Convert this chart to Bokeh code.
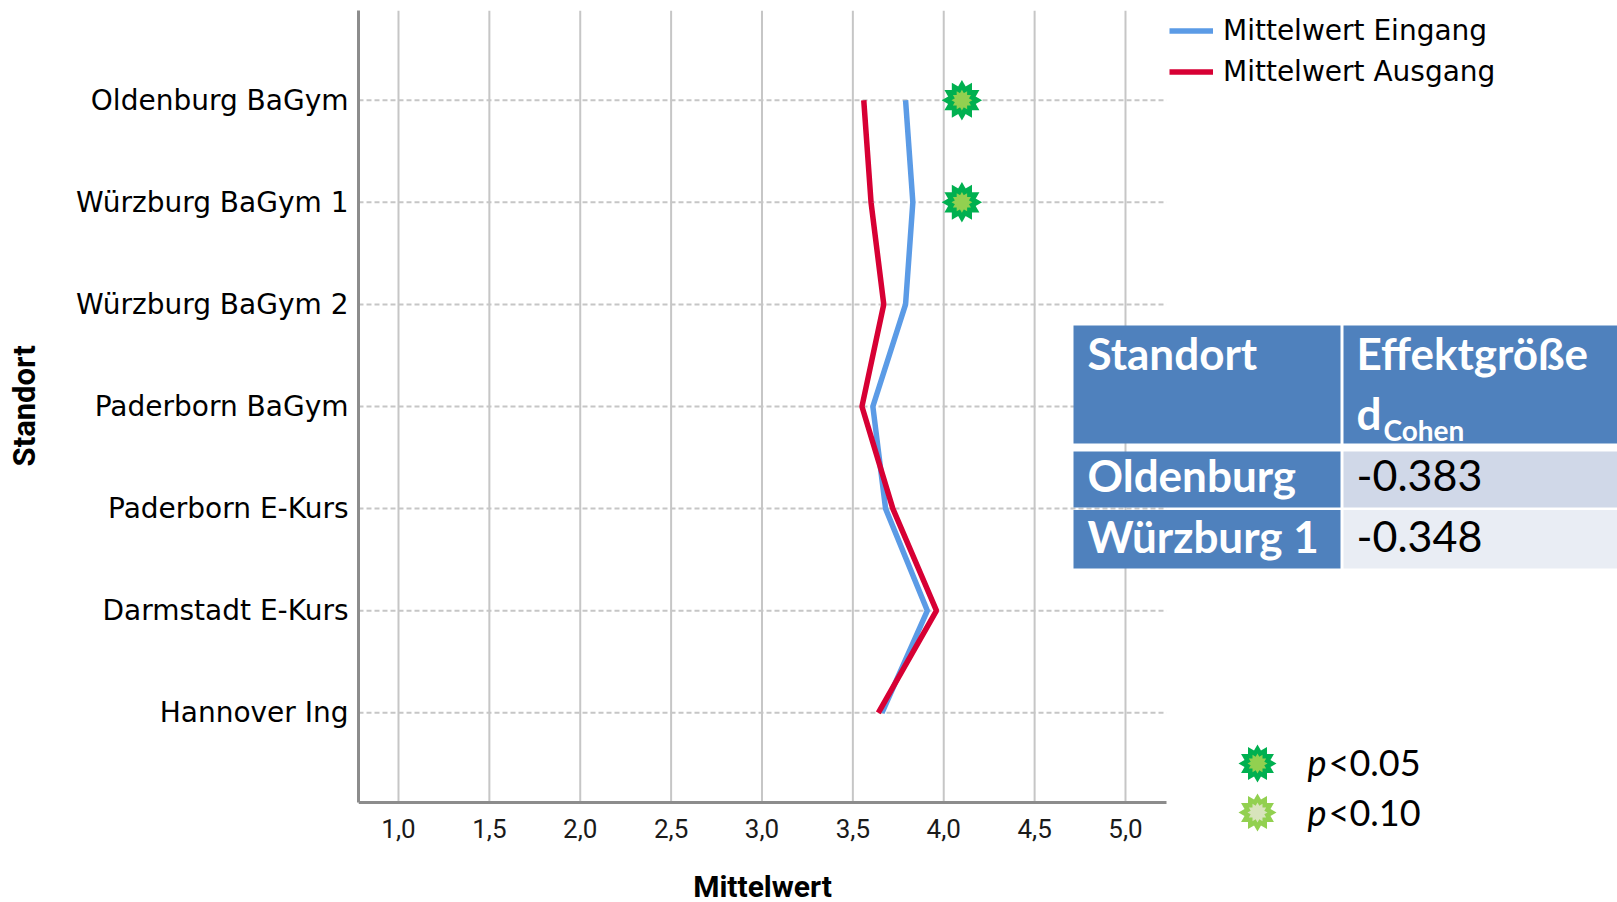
import numpy as np
from bokeh.plotting import figure
from bokeh.models import (Range1d, FixedTicker, BoxAnnotation, Label,
                          PolyAnnotation, Legend, LegendItem)
from bokeh.embed import file_html
from bokeh.resources import INLINE

# ---------------------------------------------------------------- data
standorte = ["Oldenburg BaGym", "Würzburg BaGym 1", "Würzburg BaGym 2",
             "Paderborn BaGym", "Paderborn E-Kurs", "Darmstadt E-Kurs", "Hannover Ing"]
mittelwert_eingang = [3.79, 3.83, 3.79, 3.61, 3.68, 3.91, 3.66]
mittelwert_ausgang = [3.56, 3.60, 3.67, 3.55, 3.72, 3.96, 3.64]

x_ticks = [1.0, 1.5, 2.0, 2.5, 3.0, 3.5, 4.0, 4.5, 5.0]
x_tick_labels = ["1,0", "1,5", "2,0", "2,5", "3,0", "3,5", "4,0", "4,5", "5,0"]

# sites with a significant change (p<0.05), marked with a star
signifikant_standorte = ["Oldenburg BaGym", "Würzburg BaGym 1"]
stern_x = 4.1

# effect size table
tabelle_standorte = ["Oldenburg", "Würzburg 1"]
tabelle_cohen_d = [-0.383, -0.348]

signifikanz_labels = ["<0.05", "<0.10"]

# ---------------------------------------------------------------- layout
W, H = 1617, 902
FL, FT = 358, 10                      # frame starts here; it runs to the right and bottom canvas edges
AX_X = (0.78, 5.226)                  # extent of the value axis
AX_Y = (-0.8785, 6.8786)              # extent of the category axis
PX_PER_X = 181.75
PX_PER_Y = 102.1

# rows: first site on top
y_pos = [len(standorte) - 1 - i for i in range(len(standorte))]
pos_of = dict(zip(standorte, y_pos))

BLUE = "#5B9BE6"
RED = "#D70034"
DARK_GREEN = "#00B050"
LIGHT_GREEN = "#92D050"
PALE_GREEN = "#D8E4BC"
TABLE_BLUE = "#4F81BD"
GRID = "#c6c6c6"
AXIS = "#8c8c8c"

x_end = AX_X[0] + (W - FL) / PX_PER_X
y_start = AX_Y[1] - (H - FT) / PX_PER_Y

p = figure(width=W, height=H, output_backend="svg", toolbar_location=None,
           x_range=Range1d(AX_X[0], x_end), y_range=Range1d(y_start, AX_Y[1]),
           min_border_left=FL, min_border_right=0,
           min_border_top=FT, min_border_bottom=0)
p.outline_line_color = None
p.background_fill_color = "white"
p.border_fill_color = "white"
p.grid.visible = False

# x axis, pinned to the bottom end of the category axis
p.xaxis.fixed_location = AX_Y[0]
p.xaxis.bounds = AX_X
p.xaxis.ticker = FixedTicker(ticks=x_ticks)
p.xaxis.major_label_overrides = dict(zip(x_ticks, x_tick_labels))
p.xaxis.axis_label = "Mittelwert"
p.xaxis.axis_label_text_font = "Roboto"
p.xaxis.axis_label_text_font_style = "bold"
p.xaxis.axis_label_text_font_size = "30px"
p.xaxis.axis_label_text_color = "#000000"
p.xaxis.axis_label_standoff = 27
p.xaxis.major_label_text_font = "Roboto"
p.xaxis.major_label_text_font_size = "26px"
p.xaxis.major_label_text_color = "#1a1a1a"
p.xaxis.major_label_standoff = 11

# category axis; the frame runs below the axis end, so the title carries
# leading em spaces to sit centred on the axis itself
p.yaxis.bounds = AX_Y
p.yaxis.ticker = FixedTicker(ticks=sorted(y_pos))
p.yaxis.major_label_overrides = {pos: name for name, pos in pos_of.items()}
p.yaxis.axis_label = "\u2003\u2003\u2003\u2009Standort"
p.yaxis.axis_label_text_font = "Roboto"
p.yaxis.axis_label_text_font_style = "bold"
p.yaxis.axis_label_text_font_size = "31px"
p.yaxis.axis_label_text_color = "#000000"
p.yaxis.axis_label_standoff = 30
p.yaxis.major_label_text_font = "DejaVu Sans"
p.yaxis.major_label_text_font_size = "28px"
p.yaxis.major_label_text_color = "#000000"
p.yaxis.major_label_standoff = 4

for ax in (p.xaxis, p.yaxis):
    ax.axis_line_color = AXIS
    ax.axis_line_width = 3
    ax.major_tick_line_color = None
    ax.minor_tick_line_color = None

# grid lines inside the axis extents
p.segment(x0=x_ticks, x1=x_ticks, y0=AX_Y[0], y1=AX_Y[1],
          line_color=GRID, line_width=2, level="underlay")
p.segment(x0=AX_X[0], x1=AX_X[1], y0=y_pos, y1=y_pos,
          line_color=GRID, line_width=2, line_dash="5 3", level="underlay")

# ---------------------------------------------------------------- lines
linie_eingang = p.line(x=mittelwert_eingang, y=y_pos, line_color=BLUE, line_width=5.5)
linie_ausgang = p.line(x=mittelwert_ausgang, y=y_pos, line_color=RED, line_width=5.5)

# starburst = four triangles turned by 30 degrees each
sig_y = [pos_of[s] for s in signifikant_standorte]
for size, color in ((35, DARK_GREEN), (18, LIGHT_GREEN)):
    for ang in (0, 30, 60, 90):
        p.scatter(x=[stern_x] * len(sig_y), y=sig_y, marker="triangle", size=size,
                  angle=ang, angle_units="deg", fill_color=color, line_color=None)

legend = Legend(items=[LegendItem(label="Mittelwert Eingang", renderers=[linie_eingang]),
                       LegendItem(label="Mittelwert Ausgang", renderers=[linie_ausgang])],
                location=(1169 - FL, H - 88), orientation="vertical",
                border_line_color=None, background_fill_alpha=0, padding=0, margin=0,
                spacing=8, glyph_width=44, glyph_height=31, label_height=31,
                label_standoff=10, label_text_font="DejaVu Sans",
                label_text_font_size="28px", label_text_color="#000000")
p.add_layout(legend)


# ---------------------------------------------------------------- helpers (canvas px -> frame screen units)
def sx(x):
    return x - FL


def sy(y):
    return H - y


def cell(left, right, top, bottom, color):
    p.add_layout(BoxAnnotation(left=sx(left), right=sx(right), top=sy(top), bottom=sy(bottom),
                               left_units="screen", right_units="screen",
                               top_units="screen", bottom_units="screen",
                               fill_color=color, fill_alpha=1, line_color=None, level="overlay"))


def text(x, baseline, s, size, color="#000000", style="normal", font="Lato"):
    # the label anchor sits about 0.42 em above the drawn baseline
    p.add_layout(Label(x=sx(x), y=sy(baseline - 0.42 * size), x_units="screen", y_units="screen",
                       text=s, text_font=font, text_font_size=f"{size}px",
                       text_font_style=style, text_color=color,
                       text_baseline="alphabetic", text_align="left", level="overlay"))


def starburst(cx, cy, r_out, color, points=12):
    k = np.arange(2 * points)
    ang = np.pi / 2 + k * np.pi / points
    rad = np.where(k % 2 == 0, r_out, r_out * 0.707)
    xs = cx + rad * np.cos(ang)
    ys = cy + rad * np.sin(ang)
    p.add_layout(PolyAnnotation(xs=list(sx(xs)), ys=list(sy(ys)),
                                xs_units="screen", ys_units="screen",
                                fill_color=color, fill_alpha=1, line_color=None,
                                level="overlay"))


# ---------------------------------------------------------------- effect size table
C1L, C1R, C2L, C2R = 1073, 1340, 1343, W
ROWS = [(451, 507, "#D0D8E8"), (509.5, 568, "#E9EDF4")]

cell(C1L, C1R, 325, 443, TABLE_BLUE)
cell(C2L, C2R, 325, 443, TABLE_BLUE)
text(1087, 371, "Standort", 44, "white", "bold")
text(1356, 371, "Effektgröße", 44, "white", "bold")
text(1356, 431, "d", 44, "white", "bold")
text(1383, 441, "Cohen", 28, "white", "bold")

for (top, bottom, shade), ort, d in zip(ROWS, tabelle_standorte, tabelle_cohen_d):
    cell(C1L, C1R, top, bottom, TABLE_BLUE)
    cell(C2L, C2R, top, bottom, shade)
    base = bottom - 14
    text(1087, base, ort, 44, "white", "bold")
    text(1356, base, f"{d:.3f}", 43, "#000000")

# ---------------------------------------------------------------- significance legend
starburst(1257, 763, 19, DARK_GREEN)
starburst(1257, 763, 10, LIGHT_GREEN)
starburst(1257, 812, 19, LIGHT_GREEN)
starburst(1257, 812, 10, PALE_GREEN)
for base, lab in zip((777, 827), signifikanz_labels):
    text(1307, base, "p", 36, "#000000", "italic")
    text(1328, base, lab, 36, "#000000")

open("out.html", "w").write(file_html(p, INLINE))
